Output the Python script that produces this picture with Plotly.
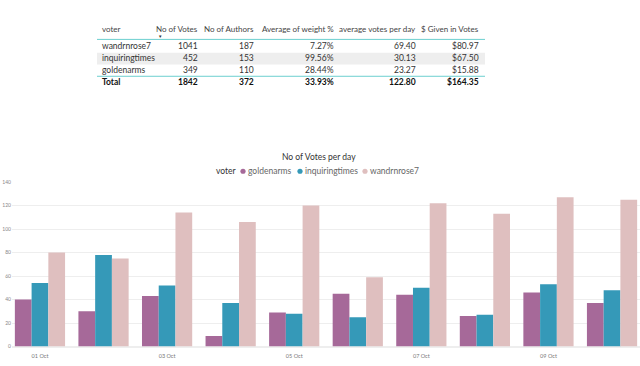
import plotly.graph_objects as go

# ---- data ----
days = ["01 Oct", "02 Oct", "03 Oct", "04 Oct", "05 Oct", "06 Oct", "07 Oct", "08 Oct", "09 Oct", "10 Oct"]
goldenarms = [40, 30, 43, 9, 29, 45, 44, 26, 46, 37]
inquiringtimes = [54, 78, 52, 37, 28, 25, 50, 27, 53, 48]
wandrnrose7 = [80, 75, 114, 106, 120, 59, 122, 113, 127, 125]
tick_days = ["01 Oct", "03 Oct", "05 Oct", "07 Oct", "09 Oct"]
series_names = ["goldenarms", "inquiringtimes", "wandrnrose7"]

table_headers = ["voter", "No of Votes", "No of Authors", "Average of weight %", "average votes per day", "$ Given in Votes"]
table_voters = ["wandrnrose7", "inquiringtimes", "goldenarms"]
table_votes = [1041, 452, 349]
table_authors = [187, 153, 110]
table_weight = ["7.27%", "99.56%", "28.44%"]
table_avg = [69.40, 30.13, 23.27]
table_given = [80.97, 67.50, 15.88]
table_total = ["Total", 1842, 372, "33.93%", 122.80, 164.35]

W, H = 640, 366
FONT = "Lato"
colors = {"goldenarms": "#A66999", "inquiringtimes": "#3599B8", "wandrnrose7": "#DFBFBF"}

fig = go.Figure()
for name, vals in zip(series_names, [goldenarms, inquiringtimes, wandrnrose7]):
    fig.add_trace(go.Bar(x=days, y=vals, name=name, marker_color=colors[name],
                         marker_line_width=0, showlegend=False))


def px(x):
    return x / W


def py(y):
    return 1 - y / H


shapes = []
annotations = []


def cell(text, x, y, anchor, color="#333333", bold=False, size=8.5):
    t = f"<b>{text}</b>" if bold else str(text)
    annotations.append(dict(text=t, x=px(x), y=py(y), xref="paper", yref="paper",
                            xanchor=anchor, yanchor="middle", showarrow=False,
                            font=dict(family=FONT, size=size, color=color)))


# ---- table ----
tx0, tx1 = 97, 485
shapes.append(dict(type="rect", xref="paper", yref="paper", x0=px(tx0), x1=px(tx1),
                   y0=py(62.5), y1=py(50.5), fillcolor="#EEEEEE", line_width=0, layer="below"))
shapes.append(dict(type="line", xref="paper", yref="paper", x0=px(tx0), x1=px(tx1),
                   y0=py(37), y1=py(37), line=dict(color="#6CCFCF", width=1)))
shapes.append(dict(type="line", xref="paper", yref="paper", x0=px(tx0), x1=px(tx1),
                   y0=py(74.5), y1=py(74.5), line=dict(color="#6CCFCF", width=1)))

col_x = [100, 200, 256, 336, 418, 481]
col_anchor = ["left", "right", "right", "right", "right", "right"]

for h, x, a in zip(table_headers, col_x, col_anchor):
    cell(h, x, 26, a, color="#444444", size=8)
cell("▼", 160, 34.5, "center", color="#333333", size=4.5)

row_y = [44, 56, 68]
for i, v in enumerate(table_voters):
    vals = [v, table_votes[i], table_authors[i], table_weight[i],
            f"{table_avg[i]:.2f}", f"${table_given[i]:.2f}"]
    for val, x, a in zip(vals, col_x, col_anchor):
        cell(val, x, row_y[i], a)
tot = [table_total[0], table_total[1], table_total[2], table_total[3],
       f"{table_total[4]:.2f}", f"${table_total[5]:.2f}"]
for val, x, a in zip(tot, col_x, col_anchor):
    cell(val, x, 80, a, color="#111111", bold=True)

# ---- chart title + legend ----
cell("No of Votes per day", 319, 156.5, "center", color="#333333", size=8.5)
cell("voter", 214, 171, "left", color="#333333", size=8.5)
legend_x = [243, 300, 365]
for name, lx in zip(series_names, legend_x):
    r = 2.6
    shapes.append(dict(type="circle", xref="paper", yref="paper",
                       x0=px(lx - r), x1=px(lx + r), y0=py(171 + r), y1=py(171 - r),
                       fillcolor=colors[name], line_width=0))
    cell(name, lx + 3, 171, "left", color="#666666", size=8.5)

fig.update_layout(
    width=W, height=H,
    margin=dict(l=0, r=0, t=0, b=0),
    paper_bgcolor="white", plot_bgcolor="white",
    barmode="group", bargap=0.21, bargroupgap=0,
    font=dict(family=FONT, color="#666666"),
    shapes=shapes, annotations=annotations,
    showlegend=False,
    xaxis=dict(domain=[px(12), 1], type="category", range=[-0.44, 9.44],
               tickvals=tick_days, ticktext=tick_days, showgrid=False, showline=False,
               ticks="", ticklabelstandoff=5,
               tickfont=dict(family=FONT, size=5.5, color="#777777")),
    yaxis=dict(domain=[py(349.3), py(182)], range=[0, 140], dtick=20,
               showgrid=True, gridcolor="#EEEEEE", gridwidth=1, zeroline=True,
               zerolinecolor="#EEEEEE", showline=False, ticks="",
               tickfont=dict(family=FONT, size=5, color="#888888")),
)

fig.write_html("out.html", config={"displayModeBar": False},
               post_script="document.body.style.margin='0';")
